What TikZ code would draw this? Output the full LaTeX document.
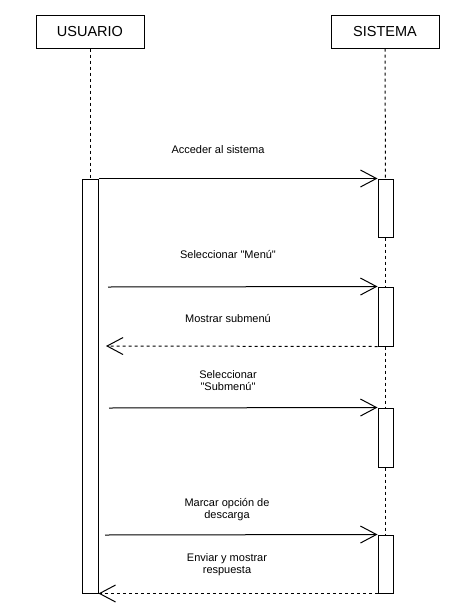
\documentclass[tikz,border=0pt]{standalone}
\usepackage{fontspec}
\newfontfamily\lib{Liberation Sans}
\usetikzlibrary{arrows.meta}
\begin{document}
\begin{tikzpicture}[x=1pt,y=-1pt,line width=1pt,
  actor/.style={draw,rectangle,minimum width=108pt,minimum height=33pt,inner sep=0pt,font=\lib\fontsize{14.5}{16}\selectfont},
  act/.style={draw,fill=white,rectangle,minimum width=15pt,inner sep=0pt},
  life/.style={dash pattern=on 3pt off 3pt},
  msg/.style={-{Straight Barb[length=16pt,width=17pt,line width=1pt]}},
  ret/.style={msg,dash pattern=on 3pt off 3pt},
  lbl/.style={align=center,inner sep=0pt,font=\lib\fontsize{11}{12}\selectfont}]
\useasboundingbox (0,0) rectangle (457,614);
\node[actor] (u) at (90,31.5) {USUARIO};
\node[actor] (s) at (385,31.5) {SISTEMA};
\node[act,minimum width=16pt,minimum height=414pt] (ua) at (90,386) {};
\node[act,minimum height=58pt] (s1) at (385.5,208) {};
\node[act,minimum height=59pt] (s2) at (385.5,316.5) {};
\node[act,minimum height=59pt] (s3) at (385.5,437.5) {};
\node[act,minimum height=58pt] (s4) at (385.5,564) {};
\draw[life] (u.south) -- (ua.north);
\draw[life] (s.south) -- (s1.north);
\draw[life] (s1.south) -- (s2.north);
\draw[life] (s2.south) -- (s3.north);
\draw[life] (s3.south) -- (s4.north);
\coordinate (a2) at (108,287);
\coordinate (b2) at (106,346);
\coordinate (a3) at (109,408);
\coordinate (a4) at (105,535);
\draw[msg] (ua.north east) -- (s1.north west);
\draw[msg] (a2) -- (s2.north west);
\draw[ret] (s2.south west) -- (b2);
\draw[msg] (a3) -- (s3.north west);
\draw[msg] (a4) -- (s4.north west);
\draw[ret] (s4.south west) -- (ua.south east);
\node[lbl] (l1) at (218,150) {Acceder al sistema};
\node[lbl] (l2) at (228,254) {Seleccionar "Menú"};
\node[lbl] (l3) at (228,318) {Mostrar submenú};
\node[lbl] (l4) at (228,381) {Seleccionar\\ "Submenú"};
\node[lbl] (l5) at (227,509.5) {Marcar opción de\\descarga};
\node[lbl] (l6) at (227,565) {Enviar y mostrar\\respuesta};
\end{tikzpicture}
\end{document}
